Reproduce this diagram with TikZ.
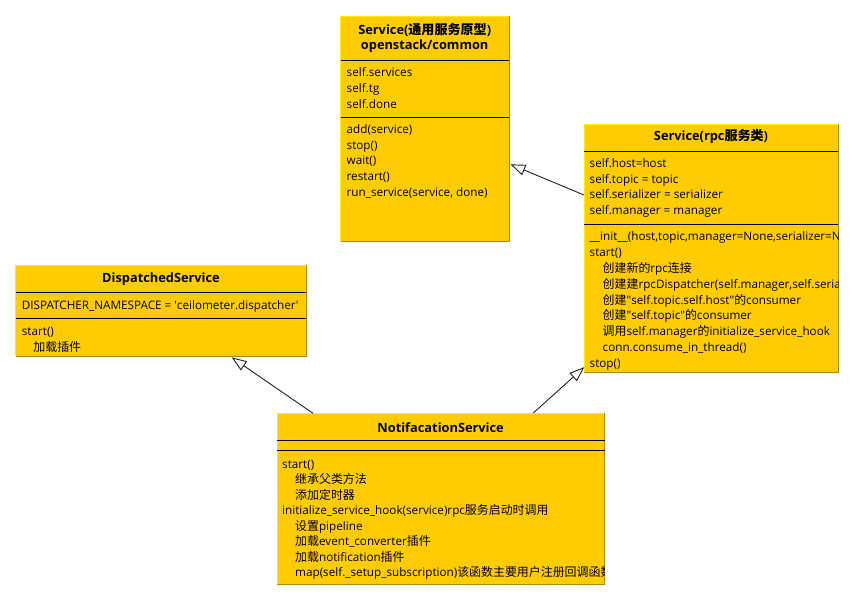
\documentclass[tikz,border=0pt]{standalone}
\usepackage{fontspec}
\setmainfont{Open Sans}
\newfontfamily\cjk{Noto Sans CJK SC}[Scale=1.02]
\usetikzlibrary{arrows.meta,calc}
\newcommand\zh[1]{{\cjk #1}}
\newcommand\mind{\hspace*{13pt}}
\newcommand\dq{\textquotedbl}
\definecolor{classfill}{HTML}{FFCC00}
\definecolor{edgelight}{HTML}{FFEE00}
\definecolor{edgedark}{HTML}{B08800}
\definecolor{wire}{HTML}{222222}

\tikzset{
  classbox/.style={fill=classfill, draw=none, inner sep=0, anchor=north west},
  lightedge/.style={draw=edgelight, line width=1pt},
  darkedge/.style={draw=edgedark, line width=1pt},
  sepline/.style={draw=black, line width=0.9pt},
  classname/.style={font=\fontsize{12.8}{15}\selectfont\bfseries, inner sep=0, align=center},
  members/.style={font=\fontsize{11.7}{15.8}\selectfont, inner sep=0, anchor=north west, align=left},
  tightmembers/.style={font=\fontsize{11.7}{15.5}\selectfont, inner sep=0, anchor=north west, align=left},
  inherit/.style={draw=wire, line width=0.9pt, -{Triangle[length=15pt,width=11pt,fill=white]}},
}

\begin{document}
\begin{tikzpicture}[x=1pt, y=-1pt]
\useasboundingbox (0,0) rectangle (854,600);

% ---- class boxes ----
\node[classbox, minimum width=168.5pt, minimum height=225pt] (common) at (340.5,16) {};
\node[classbox, minimum width=254pt, minimum height=248pt] (rpc) at (584,124) {};
\node[classbox, minimum width=290.3pt, minimum height=91pt] (disp) at (15.7,265) {};
\node[classbox, minimum width=327.3pt, minimum height=171pt] (notif) at (277,413.3) {};

% bevelled borders
\foreach \b in {common, rpc, disp, notif} {
  \draw[lightedge] (\b.south west) |- (\b.north east);
  \draw[darkedge] (\b.north east) |- (\b.south west);
}

% compartment separators
\draw[sepline] ($(common.north west)+(0,44.7)$) -- ($(common.north east)+(0,44.7)$);
\draw[sepline] ($(common.north west)+(0,101.3)$) -- ($(common.north east)+(0,101.3)$);
\draw[sepline] ($(rpc.north west)+(0,27.7)$) -- ($(rpc.north east)+(0,27.7)$);
\draw[sepline] ($(rpc.north west)+(0,100)$) -- ($(rpc.north east)+(0,100)$);
\draw[sepline] ($(disp.north west)+(0,27.3)$) -- ($(disp.north east)+(0,27.3)$);
\draw[sepline] ($(disp.north west)+(0,53.3)$) -- ($(disp.north east)+(0,53.3)$);
\draw[sepline] ($(notif.north west)+(0,26.7)$) -- ($(notif.north east)+(0,26.7)$);
\draw[sepline] ($(notif.north west)+(0,36.7)$) -- ($(notif.north east)+(0,36.7)$);

% ---- Service (common) ----
\node[classname] (commonname) at (424.7,37.5) {Service(\zh{通用服务原型})\\openstack/common};
\node[members] (commonattr) at (346.5,65.6) {\strut self.services\\self.tg\\self.done};
\node[members] (commonops) at (346.5,122) {\strut add(service)\\stop()\\wait()\\restart()\\run\_service(service, done)};

% ---- Service (rpc) ----
\node[classname] (rpcname) at (711,136.7) {Service(rpc\zh{服务类})};
\begin{scope}
  \clip (rpc.north west) rectangle (rpc.south east);
  \node[members] (rpcattr) at (589.5,156) {\strut self.host=host\\self.topic = topic\\self.serializer = serializer\\self.manager = manager};
  \node[members] (rpcops) at (589.5,229.6) {\strut \_\_init\_\_(host,topic,manager=None,serializer=None)\\
    start()\\
    \mind\zh{创建新的}rpc\zh{连接}\\
    \mind\zh{创建建}rpcDispatcher(self.manager,self.serializer)\\
    \mind\zh{创建}\dq self.topic.self.host\dq\zh{的}consumer\\
    \mind\zh{创建}\dq self.topic\dq\zh{的}consumer\\
    \mind\zh{调用}self.manager\zh{的}initialize\_service\_hook\\
    \mind conn.consume\_in\_thread()\\
    stop()};
\end{scope}

% ---- DispatchedService ----
\node[classname] (dispname) at (161,279.3) {DispatchedService};
\node[members] (dispattr) at (21.7,298) {\strut DISPATCHER\_NAMESPACE = \textquotesingle ceilometer.dispatcher\textquotesingle};
\node[members] (dispops) at (21.7,324) {\strut start()\\\hspace*{11.5pt}\zh{加载插件}};

% ---- NotifacationService ----
\node[classname] (notifname) at (440.6,427.3) {NotifacationService};
\begin{scope}
  \clip (notif.north west) rectangle (notif.south east);
  \node[tightmembers] (notifops) at (282,457.2) {\strut start()\\
    \mind\zh{继承父类方法}\\
    \mind\zh{添加定时器}\\
    initialize\_service\_hook(service)rpc\zh{服务启动时调用}\\
    \mind\zh{设置}pipeline\\
    \mind\zh{加载}event\_converter\zh{插件}\\
    \mind\zh{加载}notification\zh{插件}\\
    \mind map(self.\_setup\_subscription)\zh{该函数主要用户注册回调函数}};
\end{scope}

% ---- generalisations ----
\draw[inherit] ($(rpc.north west)+(0,71)$) -- ($(common.north east)+(1,148.3)$);
\draw[inherit] ($(notif.north west)+(36,0)$) -- ($(disp.south west)+(216,1)$);
\draw[inherit] ($(notif.north west)+(256.5,-0.5)$) -- ($(rpc.south west)+(0.3,-5.3)$);
\end{tikzpicture}
\end{document}
